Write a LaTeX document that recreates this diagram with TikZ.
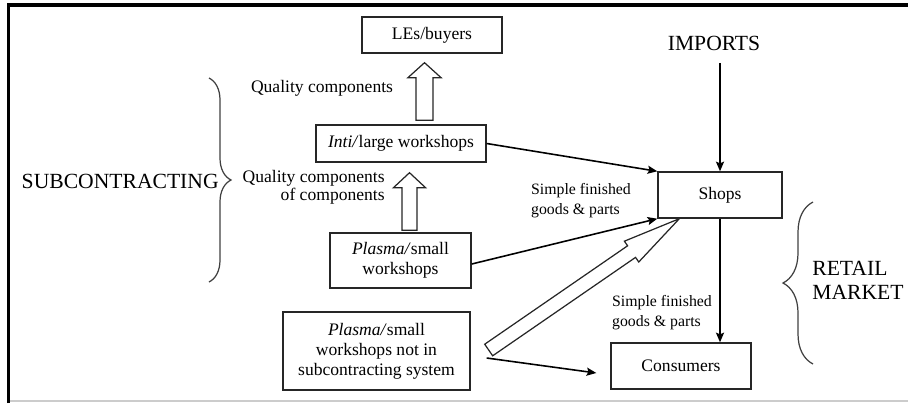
\documentclass[tikz,border=0pt]{standalone}
\usepackage{fontspec}
\setmainfont{Liberation Serif}
\usepackage{tikz}
\usetikzlibrary{positioning, arrows.meta, calc, decorations.pathreplacing}

% open block arrow: from, to, half shaft, half head, head length
\newcommand{\hollowarrow}[5]{%
  \coordinate (hbase) at ($(#2)!#5!(#1)$);
  \draw[hollow] ($(#1)!#3!90:(#2)$) -- ($(hbase)!#3!90:(#2)$)
    -- ($(hbase)!#4!90:(#2)$) -- (#2) -- ($(hbase)!#4!-90:(#2)$)
    -- ($(hbase)!#3!-90:(#2)$) -- ($(#1)!#3!-90:(#2)$) -- cycle;
}

\begin{document}
\begin{tikzpicture}[
    x=0.02cm, y=-0.02cm,
    box/.style={
        draw=black!85, line width=0.8pt,
        align=center, inner sep=2pt,
        font=\fontsize{10}{11.3}\selectfont,
    },
    flow/.style={
        -{Stealth[length=5.5pt, width=4.6pt, inset=1pt]}, line width=0.9pt,
    },
    hollow/.style={
        draw=black!85, line width=0.7pt,
        fill=white, line join=miter,
    },
    lbl/.style={
        font=\fontsize{10}{10.3}\selectfont,
        inner sep=0pt,
    },
    small/.style={
        font=\fontsize{9}{11.3}\selectfont,
        align=left, inner sep=0pt,
    },
    big/.style={
        font=\fontsize{12.3}{13.6}\selectfont,
        inner sep=0pt,
    },
    curly/.style={
        decorate, decoration={brace, amplitude=#1},
        line width=0.7pt, black!75,
    },
]
\useasboundingbox (0,0) rectangle (908,403);

%--- frame ---
\draw[line width=2pt] (8.5,403) -- (8.5,5) -- (908,5);
\draw[black!20, line width=1.2pt] (10,401) -- (908,401);

%--- boxes ---
\node[box, minimum width=2.8cm, minimum height=0.72cm] (les) at (432,35) {LEs/buyers};
\node[box, minimum width=3.4cm, minimum height=0.74cm] (inti) at (401,143.5) {\textit{Inti/}large workshops};
\node[box, minimum width=2.82cm, minimum height=1.1cm] (plasma) at (400.5,260.5) {\textit{Plasma/}small\\workshops};
\node[box, minimum width=3.74cm, minimum height=1.56cm] (loose) at (376.5,351) {\textit{Plasma/}small\\workshops not in\\subcontracting system};
\node[box, minimum width=2.48cm, minimum height=0.92cm] (shops) at (720,195) {Shops};
\node[box, minimum width=2.8cm, minimum height=0.92cm] (consumers) at (681,366) {Consumers};

%--- big labels ---
\node[big] (imports) at (714,43) {IMPORTS};
\node[big, anchor=east] (subcon) at (219,181) {SUBCONTRACTING};
\node[big, align=left, anchor=west] (retail) at (812,280) {RETAIL\\MARKET};

%--- flow labels ---
\node[lbl] (qc) at (322,88) {Quality components};
\node[lbl, align=right, anchor=east] (qcc) at (385,187) {Quality components\\of components};
\node[small] (sfg1) at (581,201) {Simple finished\\goods \& parts};
\node[small] (sfg2) at (662,313) {Simple finished\\goods \& parts};

%--- braces ---
\draw[curly=0.44cm] (209,78) -- (209,282);
\draw[curly=0.6cm] (813,364) -- (813,202);

%--- plain arrows ---
\draw[flow, shorten <=7pt] (imports.south -| shops.north) -- (shops.north);
\draw[flow] (inti.east) -- (shops.north west);
\draw[flow] ([yshift=-2pt]plasma.east) -- (shops.south west);
\draw[flow] (shops.south) -- (consumers.north -| shops.south);
\coordinate (tailA) at ($(loose.east)+(16,7)$);
\coordinate (tipA) at ($(consumers.west)+(-14,7)$);
\draw[flow] (tailA) -- (tipA);

%--- block arrows ---
\coordinate (up1a) at ($(inti.north)+(23.5,-4)$);
\coordinate (up1b) at ($(les.south)+(-7.5,9)$);
\hollowarrow{up1a}{up1b}{4.8pt}{9.4pt}{8.5pt}
\coordinate (up2a) at ($(plasma.north)+(9,-2)$);
\coordinate (up2b) at ($(inti.south)+(8.5,10)$);
\hollowarrow{up2a}{up2b}{4.25pt}{9.1pt}{8.5pt}
\coordinate (dtail) at ($(loose.east)+(18,-1)$);
\coordinate (dtip) at ($(shops.south west)+(22,0)$);
\hollowarrow{dtail}{dtip}{4pt}{7.2pt}{33pt}

\end{tikzpicture}
\end{document}
